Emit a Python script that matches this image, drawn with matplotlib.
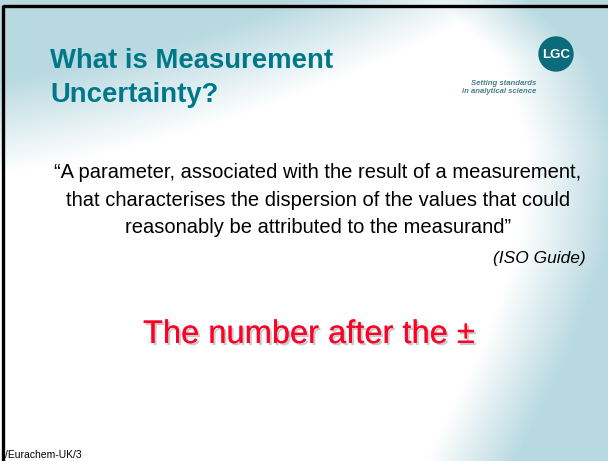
import numpy as np
import matplotlib
matplotlib.use("Agg")
import matplotlib.pyplot as plt
from matplotlib import patheffects
from matplotlib.patches import Circle

# slide text
title_lines = ["What is Measurement", "Uncertainty?"]
quote_lines = [
    "\u201cA parameter, associated with the result of a measurement,",
    "that characterises the dispersion of the values that could",
    "reasonably be attributed to the measurand\u201d",
]
quote_source = "(ISO Guide)"
headline = "The number after the \u00b1"
logo_text = "LGC"
tagline = ["Setting standards", "in analytical science"]
footer = "/Eurachem-UK/3"

W, H = 608, 461
BLUE = np.array([0.725, 0.851, 0.882])
TEAL = "#00788a"

fig = plt.figure(figsize=(W / 100, H / 100), dpi=100)
ax = fig.add_axes([0, 0, 1, 1])
ax.set_xlim(0, W)
ax.set_ylim(H, 0)
ax.axis("off")

# background: pale blue with a soft white swoosh through the middle
yy, xx = np.mgrid[0:H, 0:W].astype(float)
# upper-left edge of the swoosh, running from (0,140) up to (440,0)
s1 = (xx * 140 + (yy - 140) * 440) / 461.7
bend = 0.00035 * (xx - 220) ** 2  # slight bow of that edge
white1 = np.clip((s1 + bend) / 90 + 0.45, 0, 1)
# right-hand edge of the swoosh
x_right = np.interp(yy, [0, 60, 150, 250, 350, 461], [480, 545, 574, 562, 525, 470])
white2 = np.clip((x_right - xx) / 90 + 0.5, 0, 1)
white = white1 * white2
bg = BLUE[None, None, :] * (1 - white[..., None]) + white[..., None]
ax.imshow(bg, extent=(0, W, H, 0), zorder=0, interpolation="bilinear")

# frame lines top and left
ax.plot([3, W], [6.5, 6.5], color="black", lw=2.4, zorder=5, solid_capstyle="butt")
ax.plot([3, 3], [5.5, H], color="black", lw=2.4, zorder=5, solid_capstyle="butt")

font = "Liberation Sans"

# title
for i, line in enumerate(title_lines):
    ax.text(50, 68 + i * 34, line, fontsize=19.8, fontweight="bold", color=TEAL,
            family=font, va="baseline", ha="left", zorder=3)

# logo
ax.add_patch(Circle((556, 54), 17, color="#0a6b7a", zorder=3))
ax.text(556, 55, logo_text, fontsize=9.5, fontweight="bold", color="white",
        family=font, ha="center", va="center", zorder=4)
for i, line in enumerate(tagline):
    ax.text(536, 85 + i * 8, line, fontsize=5.6, fontweight="bold", style="italic",
            color="#4d7f8a", family=font, ha="right", va="baseline", zorder=3)

# quote
for i, line in enumerate(quote_lines):
    ax.text(318, 178 + i * 27.5, line, fontsize=14.5, color="black",
            family=font, ha="center", va="baseline", zorder=3)
ax.text(586, 263, quote_source, fontsize=12.5, style="italic", color="black",
        family=font, ha="right", va="baseline", zorder=3)

# headline with a soft shadow
ax.text(143, 343, headline, fontsize=23.5, color="#ff0026", family=font,
        ha="left", va="baseline", zorder=3,
        path_effects=[patheffects.withSimplePatchShadow(offset=(1.5, -1.5),
                                                         shadow_rgbFace="#888888",
                                                         alpha=0.45),
                      patheffects.Normal()])

# footer
ax.text(5, 458, footer, fontsize=7.5, color="black", family=font,
        ha="left", va="baseline", zorder=3)

fig.savefig("out.png", dpi=100)
